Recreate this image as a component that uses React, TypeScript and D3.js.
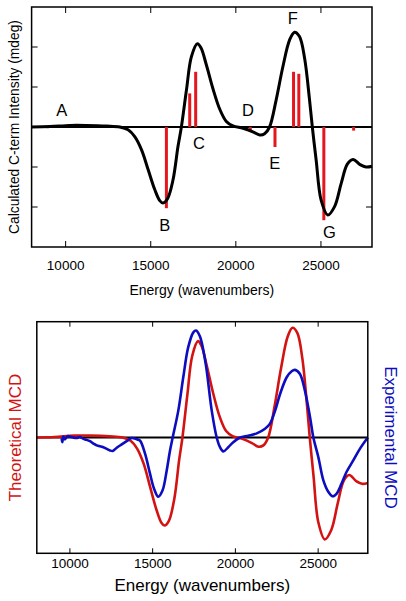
import React from "react";
import * as d3 from "d3";

// ---------- data ----------
const xTicks = [10000, 15000, 20000, 25000];
const topYTicks = [-2, -1, 0, 1, 2];

// calculated C-term MCD (theoretical)
const theoEnergy = [8000, 9080, 10250, 11230, 12400, 13180, 13670, 14060, 14460, 14850, 15240, 15530, 15720, 15980, 16310, 16600, 16800, 17100, 17390, 17740, 17950, 18270, 18660, 19050, 19440, 19830, 20420, 21000, 21400, 21690, 21980, 22370, 22760, 23160, 23450, 23740, 24040, 24330, 24520, 24720, 25010, 25400, 25800, 26190, 26550, 26880, 27300, 27650, 28000];
const theoValue = [0, 0.01, 0.04, 0.04, 0.025, 0, -0.07, -0.24, -0.57, -1.07, -1.57, -1.84, -1.9, -1.8, -1.32, -0.49, 0, 0.93, 1.76, 2.08, 1.98, 1.55, 0.95, 0.45, 0.14, 0.03, -0.03, -0.12, -0.2, -0.17, 0, 0.68, 1.5, 2.18, 2.37, 2.26, 1.72, 0.68, -0.1, -0.83, -1.83, -2.2, -1.99, -1.41, -0.93, -0.81, -0.94, -1.0, -0.98];

// transitions (sticks)
const stickEnergy = [8950, 15920, 17290, 17640, 20850, 22300, 23390, 23700, 25170, 26920];
const stickValue = [-0.03, -2.03, 0.84, 1.38, -0.1, -0.5, 1.38, 1.33, -2.33, -0.09];

// band labels
const bandLabel = ["A", "B", "C", "D", "E", "F", "G"];
const bandEnergy = [9770, 15820, 17840, 20710, 22290, 23350, 25500];
const bandValue = [0.43, -2.45, -0.41, 0.43, -0.91, 2.72, -2.62];

// experimental MCD
const expEnergy = [9500, 9540, 9600, 9700, 9850, 10000, 10200, 10410, 10600, 10810, 11000, 11210, 11420, 11620, 12020, 12420, 12590, 12830, 13130, 13430, 13730, 14040, 14240, 14540, 14840, 15080, 15340, 15600, 15850, 16050, 16210, 16550, 16850, 17150, 17460, 17620, 17860, 18200, 18570, 18870, 19070, 19270, 19570, 19870, 20280, 20780, 21290, 21790, 22090, 22400, 22700, 23100, 23400, 23600, 23900, 24200, 24510, 24710, 25010, 25310, 25610, 25880, 26120, 26420, 26720, 27130, 27530, 28000];
const expValue = [-0.02, -0.1, 0.02, -0.04, 0.03, 0.02, 0.0, -0.01, 0.01, -0.03, -0.05, -0.08, -0.13, -0.17, -0.21, -0.28, -0.29, -0.22, -0.15, -0.08, -0.01, -0.04, -0.07, -0.35, -0.78, -1.1, -1.28, -1.14, -0.71, -0.28, 0, 0.58, 1.3, 1.95, 2.27, 2.31, 2.18, 1.6, 0.58, 0, -0.21, -0.3, -0.21, -0.1, 0, 0.04, 0.09, 0.19, 0.3, 0.58, 0.94, 1.3, 1.43, 1.46, 1.37, 1.01, 0.44, 0, -0.42, -0.92, -1.17, -1.27, -1.21, -0.99, -0.74, -0.49, -0.24, 0];

// ---------- styles ----------
const FONT = "'Liberation Sans', Arial, Helvetica, sans-serif";
const RED_STICK = "#e5161d";
const RED = "#d31212";
const BLUE = "#0c0cc0";

export default function App() {
  const W = 406, H = 601;

  // top panel
  const tL = 31.6, tR = 372, tT = 7, tB = 247;
  const xTop = d3.scaleLinear().domain([8000, 28000]).range([tL, tR]);
  const yTop = d3.scaleLinear().domain([-3, 3]).range([tB, tT]);

  // bottom panel
  const bL = 36.8, bR = 367.8, bT = 321.7, bB = 553.3;
  const xBot = d3.scaleLinear().domain([8000, 28000]).range([bL, bR]);
  const yBot = d3.scaleLinear().domain([-2.5, 2.5]).range([bB, bT]);

  const theo = theoEnergy.map((e, i) => [e, theoValue[i]] as [number, number]);
  const exp = expEnergy.map((e, i) => [e, expValue[i]] as [number, number]);

  const lineTop = d3.line<[number, number]>().x(d => xTop(d[0])).y(d => yTop(d[1])).curve(d3.curveCatmullRom.alpha(0.5));
  const lineBot = d3.line<[number, number]>().x(d => xBot(d[0])).y(d => yBot(d[1])).curve(d3.curveCatmullRom.alpha(0.5));

  const tk = 6;

  return (
    <svg width={W} height={H} style={{ position: "absolute", left: 0, top: 0, background: "#fff" }} fontFamily={FONT}>
      <rect x={0} y={0} width={W} height={H} fill="#fff" />
      {/* ===== TOP PANEL ===== */}
      <g>
        {/* zero line */}
        <line x1={tL} x2={tR} y1={yTop(0)} y2={yTop(0)} stroke="#000" strokeWidth={2} />
        {/* sticks */}
        {stickEnergy.map((e, i) => (
          <line key={"s" + i} x1={xTop(e)} x2={xTop(e)} y1={yTop(0)} y2={yTop(stickValue[i])} stroke={RED_STICK} strokeWidth={3} />
        ))}
        {/* curve */}
        <path d={lineTop(theo) || ""} fill="none" stroke="#000" strokeWidth={3} strokeLinejoin="round" />
        {/* frame */}
        <rect x={tL} y={tT} width={tR - tL} height={tB - tT} fill="none" stroke="#000" strokeWidth={1.5} />
        {xTicks.map(t => (
          <g key={"tx" + t}>
            <line x1={xTop(t)} x2={xTop(t)} y1={tB} y2={tB - tk} stroke="#000" strokeWidth={1} />
            <line x1={xTop(t)} x2={xTop(t)} y1={tT} y2={tT + tk} stroke="#000" strokeWidth={1} />
            <text x={xTop(t)} y={265} textAnchor="middle" dominantBaseline="central" fontSize={13.5}>{t}</text>
          </g>
        ))}
        {topYTicks.map(t => (
          <g key={"ty" + t}>
            <line x1={tL} x2={tL + tk} y1={yTop(t)} y2={yTop(t)} stroke="#000" strokeWidth={1} />
            <line x1={tR} x2={tR - tk} y1={yTop(t)} y2={yTop(t)} stroke="#000" strokeWidth={1} />
          </g>
        ))}
        {bandLabel.map((l, i) => (
          <text key={"b" + l} x={xTop(bandEnergy[i])} y={yTop(bandValue[i])} textAnchor="middle" dominantBaseline="central" fontSize={16.5}>{l}</text>
        ))}
        <text x={(tL + tR) / 2} y={290} textAnchor="middle" dominantBaseline="central" fontSize={14}>Energy (wavenumbers)</text>
        <text transform={`translate(14,${(tT + tB) / 2}) rotate(-90)`} textAnchor="middle" dominantBaseline="central" fontSize={13.8}>Calculated C-term Intensity (mdeg)</text>
      </g>

      {/* ===== BOTTOM PANEL ===== */}
      <g>
        <line x1={bL} x2={bR} y1={yBot(0)} y2={yBot(0)} stroke="#000" strokeWidth={2} />
        <path d={lineBot(theo) || ""} fill="none" stroke={RED} strokeWidth={2.6} strokeLinejoin="round" />
        <path d={lineBot(exp) || ""} fill="none" stroke={BLUE} strokeWidth={2.6} strokeLinejoin="round" />
        <rect x={bL} y={bT} width={bR - bL} height={bB - bT} fill="none" stroke="#000" strokeWidth={1.5} />
        {xTicks.map(t => (
          <g key={"bx" + t}>
            <line x1={xBot(t)} x2={xBot(t)} y1={bB} y2={bB - 5} stroke="#000" strokeWidth={1} />
            <line x1={xBot(t)} x2={xBot(t)} y1={bT} y2={bT + 5} stroke="#000" strokeWidth={1} />
            <text x={xBot(t)} y={563} textAnchor="middle" dominantBaseline="central" fontSize={13.5}>{t}</text>
          </g>
        ))}
        <text x={(bL + bR) / 2} y={585} textAnchor="middle" dominantBaseline="central" fontSize={17}>Energy (wavenumbers)</text>
        <text transform={`translate(15,${(bT + bB) / 2}) rotate(-90)`} textAnchor="middle" dominantBaseline="central" fontSize={17} fill={RED}>Theoretical MCD</text>
        <text transform={`translate(390,${(bT + bB) / 2}) rotate(90)`} textAnchor="middle" dominantBaseline="central" fontSize={17} fill={BLUE}>Experimental MCD</text>
      </g>
    </svg>
  );
}
